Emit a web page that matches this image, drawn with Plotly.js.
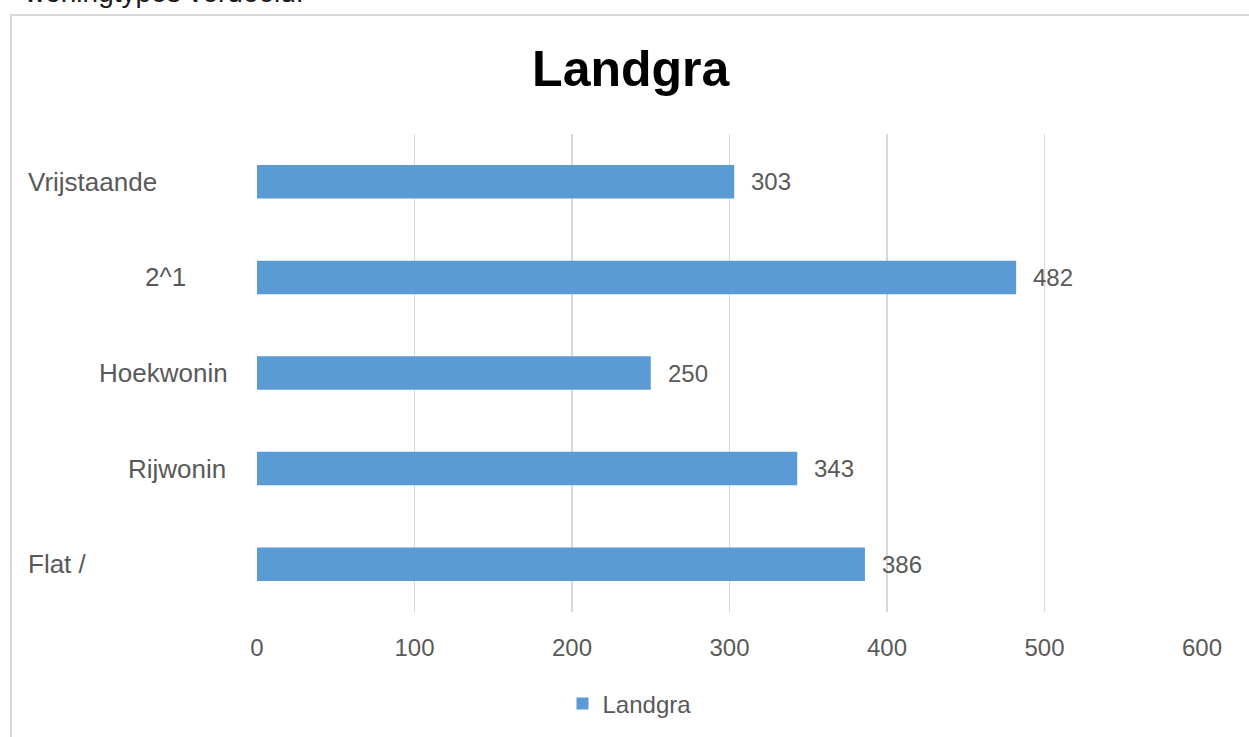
<!DOCTYPE html>
<html>
<head>
<meta charset="utf-8">
<script src="https://cdn.plot.ly/plotly-3.0.1.min.js"></script>
<style>
  html, body { margin: 0; padding: 0; background: #ffffff; overflow: hidden; }
  #wrap { position: relative; width: 1249px; height: 737px; overflow: hidden; }
  #frame { position: absolute; left: 10px; top: 14px; width: 1300px; height: 800px;
           border-left: 2px solid #d9d9d9; border-top: 2px solid #d9d9d9; box-sizing: border-box; }
  #above { position: absolute; left: 25px; top: -21px; font-family: "Liberation Sans", Arial, sans-serif;
           font-size: 28px; line-height: 28px; color: #1a1a1a; white-space: nowrap; }
  #chart { position: absolute; left: 0; top: 0; width: 1249px; height: 737px; }
</style>
</head>
<body>
<div id="wrap">
  <div id="frame"></div>
  <div id="above">woningtypes verdeeld.</div>
  <div id="chart"></div>
</div>
<script>
// ---- data ----
var categories = ["Vrijstaande", "2^1", "Hoekwonin", "Rijwonin", "Flat /"];
var values = [303, 482, 250, 343, 386];
var seriesName = "Landgra";
var chartTitle = "Landgra";
var xTickValues = [0, 100, 200, 300, 400, 500, 600];

// ---- styling / layout helpers ----
var FONT = '"Liberation Sans", Arial, sans-serif';
var GREY = '#595959';
var plotL = 257, plotR = 1202, plotT = 134, plotB = 612;
function px2paper(px) { return (px - plotL) / (plotR - plotL); }

// Excel-like category label placement (left/center/right as in the reference)
var labelPlace = [
  {px: 26, anchor: 'left'},
  {px: 165, anchor: 'center'},
  {px: 230, anchor: 'right'},
  {px: 228, anchor: 'right'},
  {px: 26, anchor: 'left'}
];

var annotations = [];
categories.forEach(function (c, i) {
  annotations.push({
    xref: 'paper', yref: 'y', x: px2paper(labelPlace[i].px), y: c,
    xanchor: labelPlace[i].anchor, yanchor: 'middle', showarrow: false,
    text: c, font: {family: FONT, size: 26, color: GREY}
  });
  annotations.push({
    xref: 'x', yref: 'y', x: values[i], y: c, xanchor: 'left', yanchor: 'middle',
    xshift: 15, showarrow: false, text: String(values[i]),
    font: {family: FONT, size: 24, color: GREY}
  });
});

var trace = {
  type: 'bar', orientation: 'h', name: seriesName,
  x: values, y: categories, width: 0.35,
  marker: {color: '#5B9BD5'},
  hoverinfo: 'x+y'
};

var layout = {
  width: 1249, height: 737, autosize: false,
  paper_bgcolor: 'rgba(0,0,0,0)', plot_bgcolor: 'rgba(0,0,0,0)',
  margin: {l: plotL, r: 1249 - plotR, t: plotT, b: 737 - plotB, pad: 0},
  title: {text: '<b>' + chartTitle + '</b>', font: {family: FONT, size: 50, color: '#000000'},
          xref: 'container', x: 0.505, xanchor: 'center', yref: 'container', y: 1 - 68 / 737, yanchor: 'middle'},
  xaxis: {
    range: [0, 600], tickvals: xTickValues, ticktext: xTickValues.map(String),
    showgrid: true, gridcolor: '#d9d9d9', gridwidth: 1.5, zeroline: false, showline: false,
    ticks: 'outside', ticklen: 14, tickcolor: 'rgba(0,0,0,0)',
    tickfont: {family: FONT, size: 24, color: GREY},
    fixedrange: true
  },
  yaxis: {
    categoryorder: 'array', categoryarray: categories, autorange: 'reversed',
    showticklabels: false, showgrid: false, zeroline: false, showline: false, ticks: '',
    fixedrange: true
  },
  showlegend: true,
  legend: {
    orientation: 'h', xref: 'container', yref: 'container', x: 0.5040, y: 1 - 704 / 737,
    xanchor: 'center', yanchor: 'middle', font: {family: FONT, size: 24, color: GREY},
    bgcolor: 'rgba(0,0,0,0)', itemwidth: 30
  },
  annotations: annotations
};

Plotly.newPlot('chart', [trace], layout, {displayModeBar: false, staticPlot: true});
</script>
</body>
</html>
